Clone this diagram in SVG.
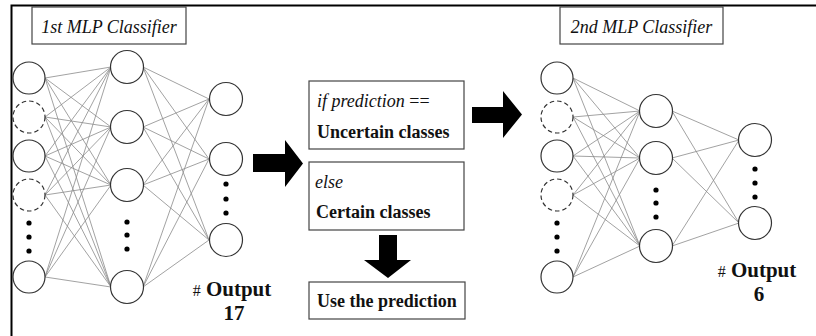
<svg xmlns="http://www.w3.org/2000/svg" width="816" height="336" viewBox="0 0 816 336">
<style>
.n{fill:#fff;stroke:#333;stroke-width:1.2}
.d{fill:#fff;stroke:#333;stroke-width:1.2;stroke-dasharray:4.5 3}
.dot{fill:#000}
.e line{stroke:#8a8a8a;stroke-width:0.8}
.box{fill:#fff;stroke:#444;stroke-width:1.2}
.t{font-size:18px;fill:#111}
.i{font-style:italic}
.b{font-weight:bold}
.o{font-size:21px;font-weight:bold;fill:#111;text-anchor:middle}
.arrow{fill:#000}
</style>
<rect width="816" height="336" fill="#fff"/>
<path d="M11.5,336 V5.5 H816" fill="none" stroke="#000" stroke-width="2"/>

<g id="connectors" class="e">
<line x1="45" y1="78" x2="111" y2="67"/><line x1="45" y1="78" x2="111" y2="127"/><line x1="45" y1="78" x2="111" y2="185"/><line x1="45" y1="78" x2="111" y2="287"/>
<line x1="45" y1="117" x2="111" y2="67"/><line x1="45" y1="117" x2="111" y2="127"/><line x1="45" y1="117" x2="111" y2="185"/><line x1="45" y1="117" x2="111" y2="287"/>
<line x1="45" y1="156" x2="111" y2="67"/><line x1="45" y1="156" x2="111" y2="127"/><line x1="45" y1="156" x2="111" y2="185"/><line x1="45" y1="156" x2="111" y2="287"/>
<line x1="45" y1="195" x2="111" y2="67"/><line x1="45" y1="195" x2="111" y2="127"/><line x1="45" y1="195" x2="111" y2="185"/><line x1="45" y1="195" x2="111" y2="287"/>
<line x1="45" y1="277" x2="111" y2="67"/><line x1="45" y1="277" x2="111" y2="127"/><line x1="45" y1="277" x2="111" y2="185"/><line x1="45" y1="277" x2="111" y2="287"/>
<line x1="143" y1="67" x2="209" y2="99"/><line x1="143" y1="67" x2="209" y2="159"/><line x1="143" y1="67" x2="209" y2="240"/>
<line x1="143" y1="127" x2="209" y2="99"/><line x1="143" y1="127" x2="209" y2="159"/><line x1="143" y1="127" x2="209" y2="240"/>
<line x1="143" y1="185" x2="209" y2="99"/><line x1="143" y1="185" x2="209" y2="159"/><line x1="143" y1="185" x2="209" y2="240"/>
<line x1="143" y1="287" x2="209" y2="99"/><line x1="143" y1="287" x2="209" y2="159"/><line x1="143" y1="287" x2="209" y2="240"/>
<line x1="573" y1="78" x2="640" y2="111"/><line x1="573" y1="78" x2="640" y2="158"/><line x1="573" y1="78" x2="640" y2="246"/>
<line x1="573" y1="117" x2="640" y2="111"/><line x1="573" y1="117" x2="640" y2="158"/><line x1="573" y1="117" x2="640" y2="246"/>
<line x1="573" y1="156" x2="640" y2="111"/><line x1="573" y1="156" x2="640" y2="158"/><line x1="573" y1="156" x2="640" y2="246"/>
<line x1="573" y1="195" x2="640" y2="111"/><line x1="573" y1="195" x2="640" y2="158"/><line x1="573" y1="195" x2="640" y2="246"/>
<line x1="573" y1="277" x2="640" y2="111"/><line x1="573" y1="277" x2="640" y2="158"/><line x1="573" y1="277" x2="640" y2="246"/>
<line x1="672" y1="111" x2="739" y2="140"/><line x1="672" y1="111" x2="739" y2="223"/>
<line x1="672" y1="158" x2="739" y2="140"/><line x1="672" y1="158" x2="739" y2="223"/>
<line x1="672" y1="246" x2="739" y2="140"/><line x1="672" y1="246" x2="739" y2="223"/>
</g>

<g id="arrows">
<polygon class="arrow" points="253,154 285,154 285,140 303,163.5 285,187 285,172 253,172"/>
<polygon class="arrow" points="472,107 503,107 503,91 522,114.5 503,138 503,123 472,123"/>
<polygon class="arrow" points="379,235 397,235 397,260 411,260 388,278 364,260 379,260"/>
</g>

<g id="label1"><rect class="box" x="32" y="7" width="154" height="37"/><text class="t i" font-family="Liberation Serif, DejaVu Serif, serif" x="109" y="33" text-anchor="middle">1st MLP Classifier</text></g>
<g id="label2"><rect class="box" x="560" y="7" width="163" height="37"/><text class="t i" font-family="Liberation Serif, DejaVu Serif, serif" x="641.5" y="33" text-anchor="middle">2nd MLP Classifier</text></g>

<g id="m1-in1"><circle class="n" cx="29" cy="78" r="16"/></g>
<g id="m1-in2"><circle class="d" cx="29" cy="117" r="16"/></g>
<g id="m1-in3"><circle class="n" cx="29" cy="156" r="16"/></g>
<g id="m1-in4"><circle class="d" cx="29" cy="195" r="16"/></g>
<g id="m1-in-dots"><circle class="dot" cx="29" cy="223" r="2.6"/><circle class="dot" cx="29" cy="237" r="2.6"/><circle class="dot" cx="29" cy="251" r="2.6"/></g>
<g id="m1-in5"><circle class="n" cx="29" cy="277" r="16"/></g>
<g id="m1-h1"><circle class="n" cx="127" cy="67" r="16.5"/></g>
<g id="m1-h2"><circle class="n" cx="127" cy="127" r="16.5"/></g>
<g id="m1-h3"><circle class="n" cx="127" cy="185" r="16.5"/></g>
<g id="m1-h-dots"><circle class="dot" cx="127" cy="222" r="2.6"/><circle class="dot" cx="127" cy="235" r="2.6"/><circle class="dot" cx="127" cy="249" r="2.6"/></g>
<g id="m1-h4"><circle class="n" cx="127" cy="287" r="16.5"/></g>
<g id="m1-o1"><circle class="n" cx="226" cy="99" r="16.5"/></g>
<g id="m1-o2"><circle class="n" cx="226" cy="159" r="16.5"/></g>
<g id="m1-o-dots"><circle class="dot" cx="226" cy="184" r="2.6"/><circle class="dot" cx="226" cy="199" r="2.6"/><circle class="dot" cx="226" cy="213" r="2.6"/></g>
<g id="m1-o3"><circle class="n" cx="226" cy="240" r="16.5"/></g>
<g id="m1-output" font-family="Liberation Serif, DejaVu Serif, serif"><text class="o" x="232" y="296"><tspan font-size="16" font-weight="normal">#</tspan> Output</text><text class="o" x="234" y="320">17</text></g>

<g id="box-uncertain" font-family="Liberation Serif, DejaVu Serif, serif"><rect class="box" x="309" y="81" width="155" height="68"/><text class="t" x="317" y="107"><tspan class="i">if prediction</tspan> ==</text><text class="t b" x="317" y="138">Uncertain classes</text></g>
<g id="box-certain" font-family="Liberation Serif, DejaVu Serif, serif"><rect class="box" x="309" y="162" width="155" height="68"/><text class="t i" x="315" y="188">else</text><text class="t b" x="316" y="218">Certain classes</text></g>
<g id="box-use" font-family="Liberation Serif, DejaVu Serif, serif"><rect class="box" x="309" y="282" width="156" height="37"/><text class="t b" x="317" y="307">Use the prediction</text></g>

<g id="m2-in1"><circle class="n" cx="557" cy="78" r="16"/></g>
<g id="m2-in2"><circle class="d" cx="557" cy="117" r="16"/></g>
<g id="m2-in3"><circle class="n" cx="557" cy="156" r="16"/></g>
<g id="m2-in4"><circle class="d" cx="557" cy="195" r="16"/></g>
<g id="m2-in-dots"><circle class="dot" cx="557" cy="223" r="2.6"/><circle class="dot" cx="557" cy="237" r="2.6"/><circle class="dot" cx="557" cy="251" r="2.6"/></g>
<g id="m2-in5"><circle class="n" cx="557" cy="277" r="16"/></g>
<g id="m2-h1"><circle class="n" cx="656" cy="111" r="16.5"/></g>
<g id="m2-h2"><circle class="n" cx="656" cy="158" r="16.5"/></g>
<g id="m2-h-dots"><circle class="dot" cx="656" cy="190" r="2.6"/><circle class="dot" cx="656" cy="203" r="2.6"/><circle class="dot" cx="656" cy="217" r="2.6"/></g>
<g id="m2-h3"><circle class="n" cx="656" cy="246" r="16.5"/></g>
<g id="m2-o1"><circle class="n" cx="755" cy="140" r="16.5"/></g>
<g id="m2-o-dots"><circle class="dot" cx="755" cy="169" r="2.6"/><circle class="dot" cx="755" cy="183" r="2.6"/><circle class="dot" cx="755" cy="197" r="2.6"/></g>
<g id="m2-o2"><circle class="n" cx="755" cy="223" r="16.5"/></g>
<g id="m2-output" font-family="Liberation Serif, DejaVu Serif, serif"><text class="o" x="757" y="277"><tspan font-size="16" font-weight="normal">#</tspan> Output</text><text class="o" x="759" y="301">6</text></g>
</svg>
